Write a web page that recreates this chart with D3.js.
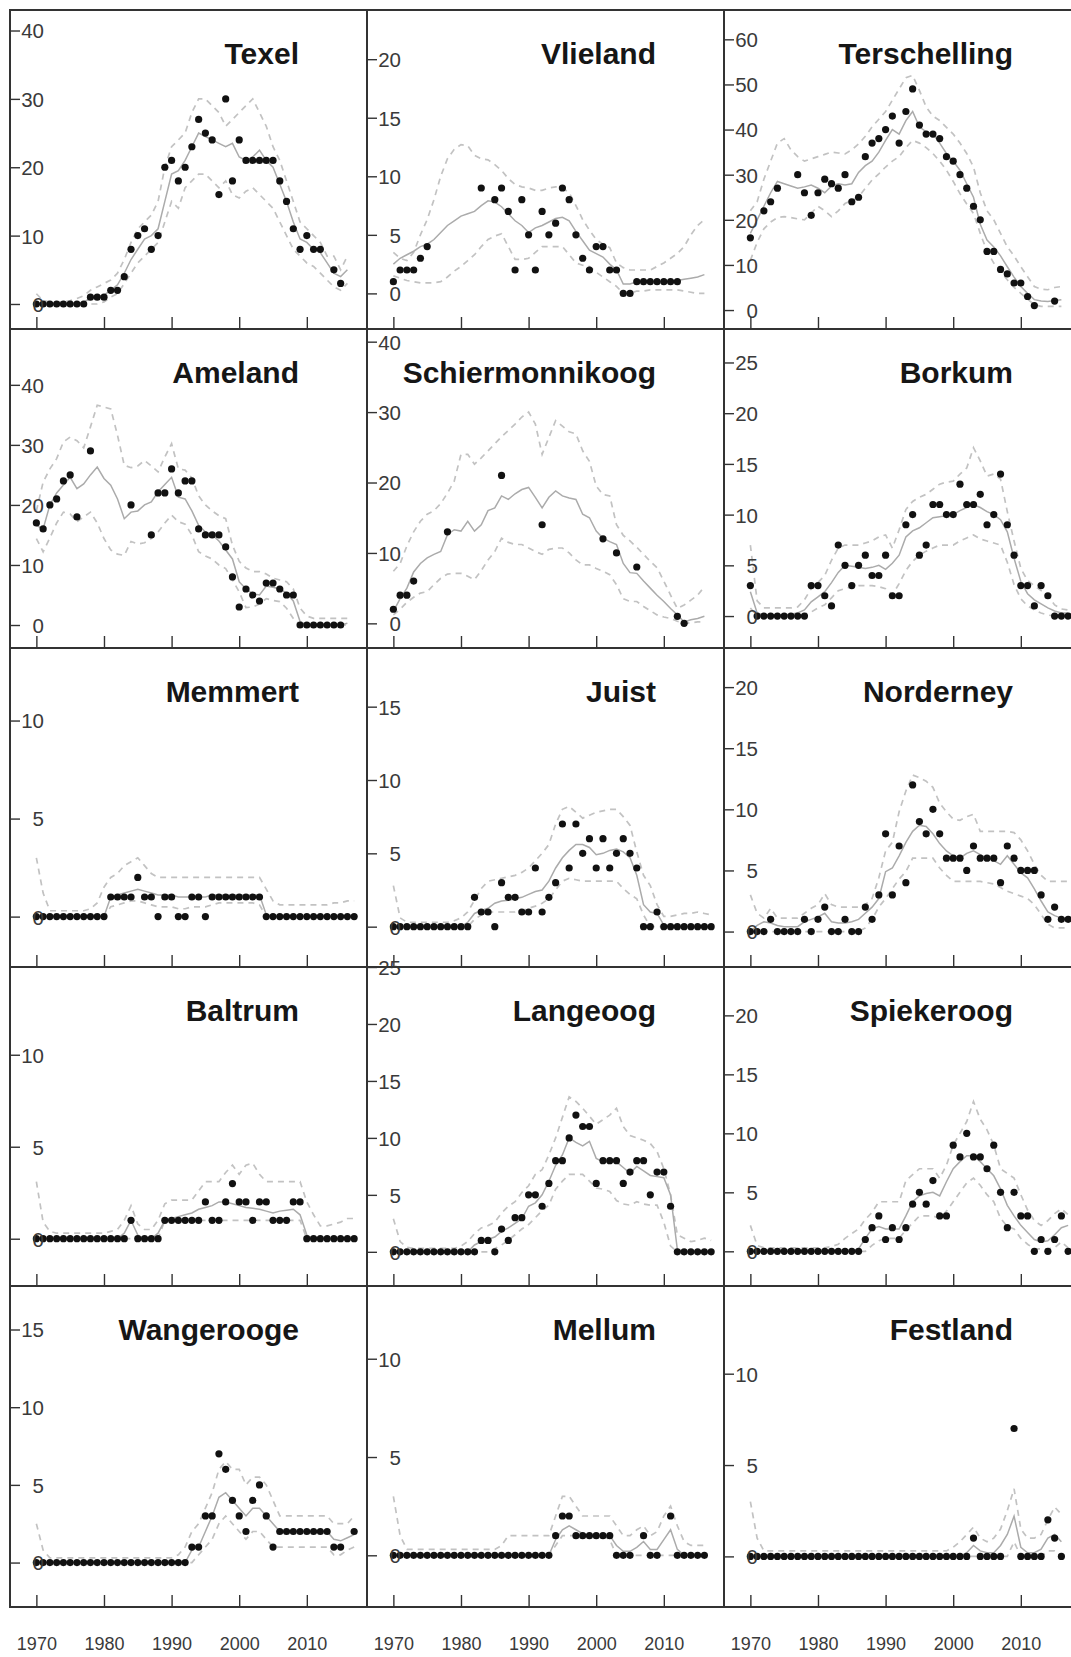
<!DOCTYPE html>
<html><head><meta charset="utf-8">
<script src="https://cdn.jsdelivr.net/npm/d3@7"></script>
<style>body{margin:0;background:#fff}svg{display:block}</style>
</head><body>
<svg id="chart" width="1071" height="1657"></svg>
<script>
const years = [1970,1971,1972,1973,1974,1975,1976,1977,1978,1979,1980,1981,1982,1983,1984,1985,1986,1987,1988,1989,1990,1991,1992,1993,1994,1995,1996,1997,1998,1999,2000,2001,2002,2003,2004,2005,2006,2007,2008,2009,2010,2011,2012,2013,2014,2015,2016,2017];
const panelNames = ["Texel","Vlieland","Terschelling","Ameland","Schiermonnikoog","Borkum","Memmert","Juist","Norderney","Baltrum","Langeoog","Spiekeroog","Wangerooge","Mellum","Festland"];
const xTickValues = [1970,1980,1990,2000,2010];
const yLimits = [[-3.66,43.0],[-3.04,24.2],[-4.2,66.5],[-3.83,49.3],[-3.5,41.8],[-3.15,28.3],[-2.57,13.7],[-2.75,19.0],[-2.9,23.2],[-2.57,14.77],[-3.0,25.0],[-2.94,24.1],[-2.86,17.8],[-2.63,13.7],[-2.77,14.8]];
const yTickValues = [[0,10,20,30,40],[0,5,10,15,20],[0,10,20,30,40,50,60],[0,10,20,30,40],[0,10,20,30,40],[0,5,10,15,20,25],[0,5,10],[0,5,10,15],[0,5,10,15,20],[0,5,10],[0,5,10,15,20,25],[0,5,10,15,20],[0,5,10,15],[0,5,10],[0,5,10]];

const texelObs = [0,0,0,0,0,0,0,0,1,1,1,2,2,4,8,10,11,8,10,20,21,18,20,23,27,25,24,16,30,18,24,21,21,21,21,21,18,15,11,8,10,8,8,null,5,3,null,null];
const texelFit = [0,0,0,0,0,0,0,0.3,0.8,1,1.3,2,2.8,4.5,6.5,8,9.5,10,11,15,19,19.5,21,23,25,24.5,24,23.5,23,23.5,21.5,21,21.5,22.5,21,20,17.5,15,12,9.5,9,8,7.5,6,4.5,4,5,null];
const texelHi = [1.5,0.5,0.3,0.3,0.3,0.5,0.8,1.2,2,2.5,3,3.5,4.5,6.5,9,11,12,13,15,20,23,24,25,28,30,30,29,28,26,27,28,29,30,28,26,23,21,18,15,12,11,10,9,7,7,5,7,null];
const texelLo = [0,0,0,0,0,0,0,0,0,0,0.3,1,1.5,3,4.5,6,7,8,9,12,15,14,17,18,19,19,18,17,18,16,15.5,16.5,17,16,15,14,12,10,8,7,6,5.5,4.5,3.5,2.5,2,3,null];

const vlielandObs = [1,2,2,2,3,4,null,null,null,null,null,null,null,9,null,8,9,7,2,8,5,2,7,5,6,9,8,5,3,2,4,4,2,2,0,0,1,1,1,1,1,1,1,null,null,null,null,null];
const vlielandFit = [2.5,3,3.3,3.6,4,4.2,4.6,5.2,5.8,6.2,6.6,6.8,7,7.5,7.9,7.8,7.4,6.8,6.2,5.8,5.2,5.6,5.8,6.1,6.4,6.5,6.2,5.3,4.5,3.7,3.4,3.1,2.5,2,0.8,0.8,1,1,1,1,1,1,1.1,1.2,1.3,1.4,1.6,null];
const vlielandHi = [3.5,3,2.8,3.5,5,6.3,8,10,11.5,12.3,12.7,12.6,11.8,11.5,11.4,11,10.5,9.8,9.3,9.1,9,8.8,8.8,9,9.1,9,8.6,7.5,6.3,5.4,4.6,4.2,3.9,2.6,2.2,2,2,2,2,2.3,2.6,3,3.4,4,5,5.8,6.3,null];
const vlielandLo = [1.5,1.3,1.1,1,0.9,0.9,0.9,1,1.4,1.9,2.3,2.8,3.3,4,4.6,4.9,5.1,4,2.9,2.9,3,3.5,4,4,4,4,3.3,2.6,2.4,2.3,1.8,1.4,1,0.6,0,0,0.2,0.2,0.3,0.3,0.3,0.3,0.3,0.2,0.1,0,0,null];

const terschellingObs = [16,null,22,24,27,null,null,30,26,21,26,29,28,27,30,24,25,34,37,38,40,43,37,44,49,41,39,39,38,34,33,30,27,23,20,13,13,9,8,6,6,3,1,null,null,2,null,null];
const terschellingFit = [17,20,23,26,28.5,28,27.5,27,27.3,27.7,27,26,27.5,28,27.7,28,30.5,32,33,35,37.6,40,39,42,44,40.6,39.5,39,37,34.7,33,31,28,25,19,15.5,14,12,9.6,7.3,5.2,3.7,2.3,2,1.9,2.1,2.3,null];
const terschellingHi = [22,24,29,33,37,38,35.5,34,33,33.5,34,34.5,35,34.8,34.6,35.5,36.8,38.5,40.6,42.3,44,46.5,49,51.5,52,48.7,45,43,42,40.5,39,37,34.7,31.7,26,22,20,17,14,12,9.6,7.4,5.2,4.6,4.5,5,5.2,null];
const terschellingLo = [11,15,18,19.5,20.5,20.7,20.5,20.2,20,21.5,23,22,20.7,22,23.6,24.3,25,27,28.8,30.2,31.7,33,34,36,37.6,37,36,34.7,33,31,28.5,25.8,23.5,21.4,17,13,10.4,8.5,6.7,5,3.7,2.4,1.2,0.8,0.8,0.8,0.8,null];

const amelandObs = [17,16,20,21,24,25,18,null,29,null,null,null,null,null,20,null,null,15,22,22,26,22,24,24,16,15,15,15,13,8,3,6,5,4,7,7,6,5,5,0,0,0,0,0,0,0,null,null];
const amelandFit = [16.6,16,20,22,23.3,24.6,22.7,23.5,25,26.3,24.4,23.3,21,17.7,18.8,19,20,20.5,22.2,23.4,24.6,21.3,21,19,16.6,15.5,15,14,12.5,11,7.2,6,5.2,5,6.5,6.3,6,5.3,4,0.6,0,0,0,0,0,0,0.3,null];
const amelandHi = [19,23.8,26,27.7,30.5,31.3,30.7,29.5,33,36.6,36.3,36,31.6,26.6,26.2,26.5,27.4,26.5,25.5,28,30.2,26,25.8,24.5,21.5,20,19,18.2,17.7,13.3,10.6,9.5,8.9,8.9,8.5,7.8,7.5,7.2,6,2.8,1.5,1.1,1.1,1.1,1.1,1.1,1.1,null];
const amelandLo = [14.4,12.2,14.5,17,18.8,18.5,17.2,18,18.8,17,14.4,12.5,11.8,11.6,13.9,13.5,13.7,14.4,15.5,17,18.3,17.2,16.8,15,12.2,11.5,11,10,9.4,7.5,5.5,2.9,3,3.5,4.4,4.1,3.9,2.8,1.1,0,0,0,0,0,0,0,0,null];

const schierObs = [2,4,4,6,null,null,null,null,13,null,null,null,null,null,null,null,21,null,null,null,null,null,14,null,null,null,null,null,null,null,null,12,null,10,null,null,8,null,null,null,null,null,1,0,null,null,null,null];
const schierFit = [1.7,3.5,5,7.3,8.5,9.3,9.8,10.2,12.6,13.3,13.1,14.5,13.1,14,16,16.4,18.1,17.6,18.4,19,19.3,17.9,16.4,17.9,18.8,18.1,17.8,17.6,15.5,15,13.1,12.1,11.6,11.2,8.5,7.2,7.1,6,5,4,3.1,2.1,1.2,0.2,0.5,0.7,1,null];
const schierHi = [7.4,8.5,11,13,14.5,15.5,16,17,18.5,20.2,24,24,22.6,23.5,24.5,25.5,26.5,27.4,28.3,29.3,30,28.3,24,26.4,28.8,28,27.2,26.9,24.5,23,19.5,18.3,18.1,14,12.5,11.7,10.8,9.8,8.8,7.9,6,4,2.1,2.6,3.3,4,5.2,null];
const schierLo = [1.2,2,3,3.7,4.3,4.5,5.5,6.4,7,7.1,7.1,6.7,6.2,7.5,9,10.2,12.1,11.5,11.2,11.2,10.7,10.2,9.8,10.5,10.7,10.7,10,9,8.3,8.3,7.8,7.4,6.9,5.5,3.5,3.1,3.1,2.4,1.8,1.2,0.9,0.7,0.3,0,0.1,0.2,0.2,null];

const borkumObs = [3,0,0,0,0,0,0,0,0,3,3,2,1,7,5,3,5,6,4,4,6,2,2,9,10,6,7,11,11,10,10,13,11,11,12,9,10,14,9,6,3,3,1,3,2,0,0,0];
const borkumFit = [2.4,0.3,0.1,0.1,0.1,0.1,0.2,0.3,0.6,1.4,1.9,2.4,3.3,4.3,5,4.9,4.8,4.7,4.8,5,4.6,5.2,6,7.8,8.4,8.7,9.2,9.7,9.8,9.9,10,10.4,10.7,11,10.7,10.3,10,9.5,8.3,5.7,3.4,2.2,1.6,1.2,0.8,0.5,0.3,0.3];
const borkumHi = [7,1.5,0.8,0.8,0.8,0.8,0.8,0.9,1.6,2.7,3.3,4,5.5,6.7,7,7,7,7.2,7.4,7.8,8,6.7,8.5,10.5,11.3,11.7,12,12.5,13,13.2,13.3,14,14.6,16.6,15.3,13.8,14,13.5,10.3,7.4,4.7,3.5,3,2.5,2,1.1,0.7,0.6];
const borkumLo = [0.8,0,0,0,0,0,0,0,0.2,0.4,0.8,1.1,1.8,2.5,2.7,2.9,3,3,3,2.9,2.7,2.1,3.2,4.5,5.4,6,6.4,6.7,7,7,7,7.4,7.7,8,7.6,7.4,7.2,7,5.3,3.1,1.7,1,0.6,0.3,0.1,0,0,0];

const memmertObs = [0,0,0,0,0,0,0,0,0,0,0,1,1,1,1,2,1,1,0,1,1,0,0,1,1,0,1,1,1,1,1,1,1,1,0,0,0,0,0,0,0,0,0,0,0,0,0,0];
const memmertFit = [0,0,0,0,0,0,0,0,0,0,0,1,1.1,1.2,1.3,1.4,1.3,1.2,1.1,1.1,1.1,1,1,1,1,1,1.1,1.1,1.1,1.1,1.1,1.1,1.1,1.1,0.1,0,0,0,0,0,0,0,0,0,0,0,0,0];
const memmertHi = [3,1.2,0.3,0.3,0.3,0.3,0.3,0.3,0.4,0.7,1.5,2,2.2,2.6,2.8,3,2.6,2.2,2,2,2,2,2,2,2,2,2,2,2,2,2,2,2,2,1.4,0.8,0.6,0.6,0.6,0.6,0.6,0.6,0.6,0.6,0.7,0.7,0.8,0.8];
const memmertLo = [0,0,0,0,0,0,0,0,0,0,0,0.5,0.6,0.7,0.8,0.8,0.7,0.6,0.5,0.5,0.5,0.4,0.4,0.5,0.5,0.5,0.6,0.7,0.7,0.7,0.7,0.7,0.7,0.6,0,0,0,0,0,0,0,0,0,0,0,0,0,0];

const juistObs = [0,0,0,0,0,0,0,0,0,0,0,0,2,1,1,0,3,2,2,1,1,4,1,2,3,7,4,7,5,6,4,6,4,5,6,5,4,0,0,1,0,0,0,0,0,0,0,0];
const juistFit = [0,0,0,0,0,0,0,0,0,0,0,0.3,0.9,1.1,1.25,1.6,1.75,1.8,1.9,2,2.2,2.4,2.5,3.1,4,4.7,5.2,5.6,5.6,5.4,4.9,5,5.2,5.3,5.1,4.7,3.5,1.5,1,0.9,0.1,0,0,0,0,0,0,0];
const juistHi = [2.8,0.6,0.3,0.3,0.3,0.3,0.3,0.3,0.3,0.4,0.6,1,1.8,2.6,3.1,3.2,3.3,3.4,3.5,3.7,4,4.5,5,5.6,7,8,8.2,7.8,7.4,7.6,7.8,7.9,8,8,7.5,6.9,5.1,3.5,2.8,1.5,0.7,0.7,0.8,0.9,0.9,1,0.9,0.8];
const juistLo = [0,0,0,0,0,0,0,0,0,0,0,0,0.5,0.8,1,1,1,1,1,1.1,1.25,1.4,1.6,1.9,2.5,3.1,3.3,3.2,3.1,3.1,3.1,3.1,3.1,3.1,2.6,2.2,1.9,0.8,0,0,0,0,0,0,0,0,0,0];

const norderneyObs = [0,0,0,1,0,0,0,0,1,0,1,2,0,0,1,0,0,2,1,3,8,3,7,4,12,9,8,10,8,6,6,6,5,7,6,6,6,4,7,6,5,5,5,3,1,2,1,1];
const norderneyFit = [0,0.5,0.8,0.7,0.5,0.4,0.4,0.4,0.8,1,1.2,1.5,0.8,0.7,0.7,0.8,1,1.5,2,2.7,4.9,5.2,6.2,7.3,8.2,8.7,8.6,8,7.2,6.6,6.2,6,6.4,6.6,6.3,6,5.8,5.5,6.2,5.5,4.8,4.4,3.5,2.5,1.6,1.3,1.1,1];
const norderneyHi = [3,1.5,1.1,1.9,1.1,1.1,1.1,1.1,1.5,1.9,2.2,3.1,2.2,2,2,2,2,2.2,2.7,4.4,6.6,7.3,9.8,11.5,12.8,12.6,12.3,11.8,10.5,9.8,9.2,9.1,9.4,9.6,8.2,8.2,8.2,8.2,8.2,8.1,7.5,6.6,5.5,4.6,4.1,4.1,4.1,4.1];
const norderneyLo = [0,0,0,0,0,0,0,0,0,0,0,0,0,0,0,0,0,0.3,1,2,2.7,3.5,4.3,4.9,6,6,6,6,5.2,4.6,4.1,4.1,4.1,4.1,4.1,4,3.9,3.6,3.3,3.1,2.9,2.7,2.2,1.4,0.6,0.3,0.3,0.3];

const baltrumObs = [0,0,0,0,0,0,0,0,0,0,0,0,0,0,1,0,0,0,0,1,1,1,1,1,1,2,1,1,2,3,2,2,1,2,2,1,1,1,2,2,0,0,0,0,0,0,0,0];
const baltrumFit = [0,0,0,0,0,0,0,0,0,0,0,0,0,0.3,1,0.2,0,0,0.3,1,1.1,1.2,1.3,1.4,1.6,1.7,1.8,2,2,1.9,1.8,1.7,1.65,1.6,1.5,1.4,1.5,1.55,1.6,1.3,0.2,0,0,0,0,0,0,0];
const baltrumHi = [3.1,0.9,0.4,0.3,0.3,0.3,0.3,0.3,0.3,0.3,0.3,0.4,0.5,1,1.8,0.8,0.5,0.5,1,1.9,2.1,2.1,2.1,2.1,2.6,3.1,3.1,3.1,3.6,4,3.5,4,4.1,3.5,3.1,3.1,3.1,3.1,3.1,3.1,2,1.3,0.7,0.7,0.8,0.9,1.1,1.1];
const baltrumLo = [0,0,0,0,0,0,0,0,0,0,0,0,0,0,0,0,0,0,0,1,1,1,1,1,1,1,1,1,1,1,1,1,1,1,1,1,1,1,1,1,0,0,0,0,0,0,0,0];

const langeoogObs = [0,0,0,0,0,0,0,0,0,0,0,0,0,1,1,0,2,1,3,3,5,5,4,6,8,8,10,12,11,11,6,8,8,8,6,7,8,8,5,7,7,4,0,0,0,0,0,0];
const langeoogFit = [0,0,0,0,0,0,0,0,0,0,0,0,0.6,0.9,1.1,1.3,1.8,2.1,2.5,2.9,4,4.3,5,6.2,7.6,8.5,10,9.6,9.3,9.7,8.2,7.9,7.9,7.9,7.4,6.9,7.5,7.1,6.7,6.6,6.5,5,0.2,0,0,0,0,0];
const langeoogHi = [2.9,0.9,0.4,0.3,0.3,0.3,0.3,0.3,0.3,0.3,0.5,0.9,1.6,2.1,2.3,2.6,3.4,4,4.4,5.2,5.8,6.8,7.2,8.5,10,11.8,13.6,13.2,12.6,11.9,11.2,11.6,12,12.6,11,10.2,10,9.8,9.5,8.8,7.3,5,1.5,1.2,0.9,1,1.2,1];
const langeoogLo = [0,0,0,0,0,0,0,0,0,0,0,0,0,0,0,0.3,0.6,1,1.5,2,2.4,3,3.6,4.1,5.5,6.2,6.8,6.8,6.8,6.2,5.6,5.5,5.3,4.5,4.2,4.1,4.4,4.2,4.1,4.1,2.6,0.5,0,0,0,0,0,0];

const spiekeroogObs = [0,0,0,0,0,0,0,0,0,0,0,0,0,0,0,0,0,1,2,3,1,2,1,2,4,5,4,6,3,3,9,8,10,8,8,7,9,5,2,5,3,3,0,1,0,1,3,0];
const spiekeroogFit = [0,0,0,0,0,0,0,0,0,0,0,0,0,0,0,0,0.2,1.1,1.9,2.1,1.9,1.9,1.9,3,4.2,4.7,4.9,5,4.7,5.9,7,7.6,8.1,8.1,7.6,7,6.4,5.3,3.9,3,2.2,1.6,1,0.8,0.9,1.4,2,2.2];
const spiekeroogHi = [2.2,0.5,0.3,0.3,0.3,0.3,0.3,0.3,0.3,0.3,0.3,0.3,0.4,0.6,1.1,1.5,1.9,2.7,3.3,4.2,4.2,4.2,4.2,6,6.5,7,7,7,6.2,7.3,9,10,11,12.7,11.2,10.3,9,7,6.6,6.2,4.8,3.5,2.6,2.2,2.6,3.2,3.6,3.1];
const spiekeroogLo = [0,0,0,0,0,0,0,0,0,0,0,0,0,0,0,0,0,0,0.5,0.9,1.1,1.1,1.1,1.8,2.4,3,3,3,2.8,3.4,4.2,5,5.8,6.2,5.6,4.8,4.2,2.8,2.1,1.9,1.1,0.6,0.2,0.2,0.2,0.3,0.8,0.3];

const wangeroogeObs = [0,0,0,0,0,0,0,0,0,0,0,0,0,0,0,0,0,0,0,0,0,0,0,1,1,3,3,7,6,4,3,2,4,5,3,1,2,2,2,2,2,2,2,2,1,1,null,2];
const wangeroogeFit = [0,0,0,0,0,0,0,0,0,0,0,0,0,0,0,0,0,0,0,0,0,0,0,0.8,1,2,3,4.2,4.5,4,3.5,3,3.5,3.5,3,2.5,2,2,2,2,2,2,2,2,1.5,1.4,1.6,1.8];
const wangeroogeHi = [2.5,0.8,0.3,0.3,0.3,0.3,0.3,0.3,0.3,0.3,0.3,0.3,0.3,0.3,0.3,0.3,0.3,0.3,0.3,0.3,0.3,0.5,1,2,2.5,3.5,4.5,6,6.5,6,6,5,5.5,5.5,5,4,3,3,3,3,3,3,3,3,2.5,2.5,2.5,3];
const wangeroogeLo = [0,0,0,0,0,0,0,0,0,0,0,0,0,0,0,0,0,0,0,0,0,0,0,0,0.5,1,1.5,2.5,3,2.5,2,1.5,2,2,1.5,1,1,1,1,1,1,1,1,1,0.5,0.5,0.8,1];

const mellumObs = [0,0,0,0,0,0,0,0,0,0,0,0,0,0,0,0,0,0,0,0,0,0,0,0,1,2,2,1,1,1,1,1,1,0,0,0,null,1,0,0,null,2,0,0,0,0,0,null];
const mellumFit = [0,0,0,0,0,0,0,0,0,0,0,0,0,0,0,0,0,0,0,0,0,0,0,0,0.8,1.3,1.5,1.3,1.1,1,1,1,1,0.5,0.2,0.2,0.4,0.7,0.3,0.3,0.8,1.3,0.3,0,0,0,0,null];
const mellumHi = [3,1,0.3,0.3,0.3,0.3,0.3,0.3,0.3,0.3,0.3,0.3,0.3,0.3,0.3,0.3,0.5,1,1,1,1,1,1,1,2,3,3,2.5,2,2,2,2,2,1.5,1,1,1.3,1.5,1,1.2,2,2.5,1.5,0.7,0.5,0.5,0.5,null];
const mellumLo = [0,0,0,0,0,0,0,0,0,0,0,0,0,0,0,0,0,0,0,0,0,0,0,0,0.5,1,1,1,1,1,1,1,0.8,0,0,0,0,0,0,0,0,0,0,0,0,0,0,null];

const festlandObs = [0,0,0,0,0,0,0,0,0,0,0,0,0,0,0,0,0,0,0,0,0,0,0,0,0,0,0,0,0,0,0,0,0,1,0,0,0,0,null,7,0,0,0,0,2,1,0,null];
const festlandFit = [0,0,0,0,0,0,0,0,0,0,0,0,0,0,0,0,0,0,0,0,0,0,0,0,0,0,0,0,0,0,0,0,0.2,0.6,0.3,0.2,0.2,0.6,1.2,2.2,0.5,0.2,0.2,0.4,1,1.2,0.8,null];
const festlandHi = [3,1,0.3,0.3,0.3,0.3,0.3,0.3,0.3,0.3,0.3,0.3,0.3,0.3,0.3,0.3,0.3,0.3,0.3,0.3,0.3,0.3,0.3,0.3,0.3,0.3,0.3,0.3,0.3,0.3,0.5,0.8,1.2,1.6,1,0.8,1,1.5,2.5,3.7,1.5,1,1,1.2,2,2.7,2.3,null];
const festlandLo = [0,0,0,0,0,0,0,0,0,0,0,0,0,0,0,0,0,0,0,0,0,0,0,0,0,0,0,0,0,0,0,0,0,0,0,0,0,0,0,0.8,0,0,0,0,0.3,0.3,0,null];

const obsList = [texelObs,vlielandObs,terschellingObs,amelandObs,schierObs,borkumObs,memmertObs,juistObs,norderneyObs,baltrumObs,langeoogObs,spiekeroogObs,wangeroogeObs,mellumObs,festlandObs];
const fitList = [texelFit,vlielandFit,terschellingFit,amelandFit,schierFit,borkumFit,memmertFit,juistFit,norderneyFit,baltrumFit,langeoogFit,spiekeroogFit,wangeroogeFit,mellumFit,festlandFit];
const hiList = [texelHi,vlielandHi,terschellingHi,amelandHi,schierHi,borkumHi,memmertHi,juistHi,norderneyHi,baltrumHi,langeoogHi,spiekeroogHi,wangeroogeHi,mellumHi,festlandHi];
const loList = [texelLo,vlielandLo,terschellingLo,amelandLo,schierLo,borkumLo,memmertLo,juistLo,norderneyLo,baltrumLo,langeoogLo,spiekeroogLo,wangeroogeLo,mellumLo,festlandLo];

// layout
const colLeft = [10, 367, 724];
const rowTop = [10, 329, 648, 967, 1286];
const rowBottom = [329, 648, 967, 1286, 1607];
const panelW = 357;
const xDomain = [1966.1, 2018.9];
const FONT = "'Liberation Sans', Arial, Helvetica, sans-serif";

const svg = d3.select("#chart");
svg.append("rect").attr("width",1071).attr("height",1657).attr("fill","#fff");

panelNames.forEach((name, i) => {
  const col = i % 3, row = Math.floor(i / 3);
  const x0 = colLeft[col], y0 = rowTop[row], y1 = rowBottom[row];
  const x = d3.scaleLinear().domain(xDomain).range([x0, x0 + panelW]);
  const y = d3.scaleLinear().domain(yLimits[i]).range([y1, y0]);
  const g = svg.append("g");
  const series = arr => years.map((yr, k) => ({yr: yr, v: arr[k]}));
  const line = d3.line().defined(d => d.v != null).x(d => x(d.yr)).y(d => y(d.v));

  [loList[i], hiList[i]].forEach(arr => {
    g.append("path").attr("d", line(series(arr)))
      .attr("fill","none").attr("stroke","#c2c2c2").attr("stroke-width",1.7)
      .attr("stroke-dasharray","6,5");
  });
  g.append("path").attr("d", line(series(fitList[i])))
    .attr("fill","none").attr("stroke","#ababab").attr("stroke-width",1.5);

  g.selectAll("circle").data(series(obsList[i]).filter(d => d.v != null)).join("circle")
    .attr("cx", d => x(d.yr)).attr("cy", d => y(d.v)).attr("r", 3.6).attr("fill","#111");

  // y axis (ticks inward from left border)
  const ya = g.append("g").attr("transform", `translate(${x0},0)`)
    .call(d3.axisRight(y).tickValues(yTickValues[i]).tickSize(10).tickFormat(d3.format("d")));
  ya.select(".domain").remove();
  ya.selectAll(".tick line").attr("stroke","#333").attr("stroke-width",1.4);
  ya.selectAll(".tick text").attr("x", 34).attr("text-anchor","end").attr("dy","0.36em")
    .attr("font-family", FONT).attr("font-size", 20.5).attr("fill","#3a3a3a");

  // x ticks (upward from bottom border)
  const xa = g.append("g").attr("transform", `translate(0,${y1})`)
    .call(d3.axisTop(x).tickValues(xTickValues).tickSize(12).tickFormat(""));
  xa.select(".domain").remove();
  xa.selectAll(".tick line").attr("stroke","#333").attr("stroke-width",1.4);

  if (row === 4) {
    const xb = g.append("g").attr("transform", `translate(0,${y1})`)
      .call(d3.axisBottom(x).tickValues(xTickValues).tickSize(0).tickPadding(30).tickFormat(d3.format("d")));
    xb.select(".domain").remove();
    xb.selectAll(".tick text").attr("font-family", FONT).attr("font-size", 18).attr("fill","#3a3a3a");
  }

  // title
  g.append("text").attr("x", x0 + 289).attr("y", y0 + 54).attr("text-anchor","end")
    .attr("font-family", FONT).attr("font-weight","bold").attr("font-size", 30)
    .attr("fill","#161616").text(name);

  // border
  g.append("rect").attr("x", x0).attr("y", y0).attr("width", panelW).attr("height", y1 - y0)
    .attr("fill","none").attr("stroke","#333").attr("stroke-width",2);
});
</script>
</body></html>
